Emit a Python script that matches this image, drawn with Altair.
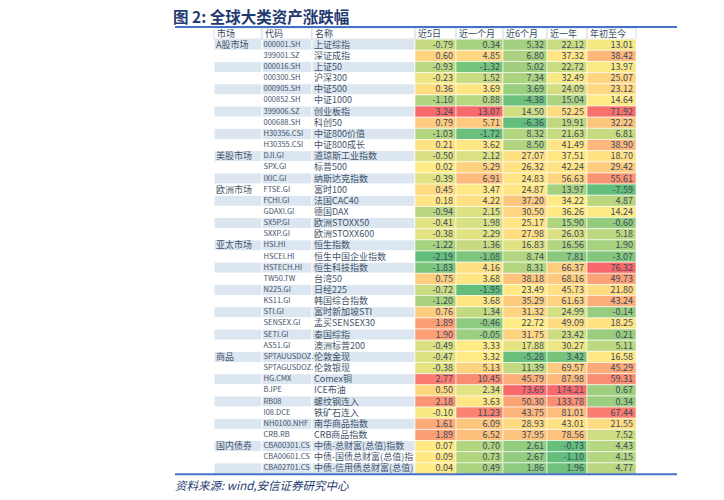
import altair as alt
import pandas as pd
import numpy as np

# ---------------- data ----------------
markets = ["A股市场", "", "", "", "", "", "", "", "", "",
           "美股市场", "", "",
           "欧洲市场", "", "", "", "",
           "亚太市场", "", "", "", "", "", "", "", "", "",
           "商品", "", "", "", "", "", "", "",
           "国内债券", "", ""]
codes = ["000001.SH", "399001.SZ", "000016.SH", "000300.SH", "000905.SH", "000852.SH",
         "399006.SZ", "000688.SH", "H30356.CSI", "H30355.CSI",
         "DJI.GI", "SPX.GI", "IXIC.GI",
         "FTSE.GI", "FCHI.GI", "GDAXI.GI", "SX5P.GI", "SXXP.GI",
         "HSI.HI", "HSCEI.HI", "HSTECH.HI", "TW50.TW", "N225.GI", "KS11.GI", "STI.GI",
         "SENSEX.GI", "SETI.GI", "AS51.GI",
         "SPTAUUSDOZ.", "SPTAGUSDOZ.", "HG.CMX", "B.IPE", "RB08", "I08.DCE", "NH0100.NHF", "CRB.RB",
         "CBA00301.CS", "CBA00601.CS", "CBA02701.CS"]
names = ["上证综指", "深证成指", "上证50", "沪深300", "中证500", "中证1000", "创业板指", "科创50",
         "中证800价值", "中证800成长",
         "道琼斯工业指数", "标普500", "纳斯达克指数",
         "富时100", "法国CAC40", "德国DAX", "欧洲STOXX50", "欧洲STOXX600",
         "恒生指数", "恒生中国企业指数", "恒生科技指数", "台湾50", "日经225", "韩国综合指数",
         "富时新加坡STI", "孟买SENSEX30", "泰国综指", "澳洲标普200",
         "伦敦金现", "伦敦银现", "Comex铜", "ICE布油", "螺纹钢连入", "铁矿石连入", "南华商品指数", "CRB商品指数",
         "中债-总财富(总值)指数", "中债-国债总财富(总值)指数", "中债-信用债总财富(总值)指数"]
ret_5d = [-0.79, 0.60, -0.93, -0.23, 0.36, -1.10, 3.24, 0.79, -1.03, 0.21,
          -0.50, 0.02, -0.39,
          0.45, 0.18, -0.94, -0.41, -0.38,
          -1.22, -2.19, -1.83, 0.75, -0.72, -1.20, 0.76, 1.89, 1.90, -0.49,
          -0.47, -0.38, 2.77, 0.50, 2.18, -0.10, 1.61, 1.89,
          0.07, 0.09, 0.04]
ret_1m = [0.34, 4.85, -1.32, 1.52, 3.69, 0.88, 13.07, 5.71, -1.72, 3.62,
          2.12, 5.29, 6.91,
          3.47, 4.22, 2.15, 1.98, 2.29,
          1.36, -1.08, 4.16, 3.68, -1.95, 3.68, 1.34, -0.46, -0.05, 3.33,
          3.32, 5.13, 10.45, 2.34, 3.63, 11.23, 6.09, 6.52,
          0.70, 0.73, 0.49]
ret_6m = [5.32, 6.80, 5.02, 7.34, 3.69, -4.38, 14.50, -6.36, 8.32, 8.50,
          27.07, 26.32, 24.83,
          24.87, 37.20, 30.50, 25.17, 27.98,
          16.83, 8.74, 8.31, 38.18, 23.49, 35.29, 31.32, 22.72, 31.75, 17.88,
          -5.28, 11.39, 45.79, 73.65, 50.30, 43.75, 28.93, 37.95,
          2.61, 2.67, 1.86]
ret_1y = [22.12, 37.32, 22.72, 32.49, 24.09, 15.04, 52.25, 19.91, 21.63, 41.49,
          37.51, 42.24, 56.63,
          13.97, 34.22, 36.26, 15.90, 26.03,
          16.56, 7.81, 66.37, 68.16, 45.73, 61.63, 24.99, 49.09, 23.42, 30.27,
          3.42, 69.57, 87.98, 174.21, 133.78, 81.01, 43.01, 78.56,
          -0.73, -1.10, 1.96]
ret_ytd = [13.01, 38.42, 13.97, 25.07, 23.12, 14.64, 71.92, 32.22, 6.81, 38.90,
           18.70, 29.42, 55.61,
           -7.59, 4.87, 14.24, -0.60, 5.18,
           1.90, -3.07, 76.32, 49.73, 21.80, 43.24, -0.14, 18.25, 0.21, 5.11,
           16.58, 45.29, 59.31, 0.67, 0.34, 67.44, 21.55, 7.52,
           4.43, 4.15, 4.77]

left_headers = ["市场", "代码", "名称"]
num_headers = ["近5日", "近一个月", "近6个月", "近一年", "年初至今"]
num_series = [ret_5d, ret_1m, ret_6m, ret_1y, ret_ytd]

# ---------------- layout (chart pixel units) ----------------
W, H = 708, 484
col_edges = [206, 254, 304, 407, 448, 495, 539, 579, 628]
ROW_H = 11.15
TOP = 20.0
y_dom = [-TOP / ROW_H, (H - TOP) / ROW_H]
n = len(codes)

xs = alt.Scale(domain=[0, W], nice=False, zero=False)
ys = alt.Scale(domain=y_dom, reverse=True, nice=False, zero=False)
FONT = "Noto Sans CJK SC"
ZW = "\u200b"

# ---------------- tables ----------------
left_rows = []
for i in range(n):
    vals = [markets[i], codes[i], names[i]]
    for c in range(3):
        left_rows.append(dict(x0=col_edges[c], x1=col_edges[c + 1], y0=i + 1, y1=i + 2,
                              yc=i + 1.5, tx=col_edges[c] + (1.5 if c == 1 else 2), txt=vals[c],
                              bg="#DCE6F1" if i % 2 == 0 else "#FFFFFF", col=c))
left_df = pd.DataFrame(left_rows)

num_rows = []
for c, series in enumerate(num_series):
    arr = np.array(series)
    lo, med, hi = arr.min(), np.median(arr), arr.max()
    for i, v in enumerate(series):
        t = 0.5 * (v - lo) / (med - lo) if v <= med else 0.5 + 0.5 * (v - med) / (hi - med)
        num_rows.append(dict(x0=col_edges[c + 3], x1=col_edges[c + 4], y0=i + 1, y1=i + 2,
                             yc=i + 1.5, tx=col_edges[c + 4] - 3, t=t, txt=f"{v:.2f}"))
num_df = pd.DataFrame(num_rows)

hdr_rows = []
for c, h in enumerate(left_headers + num_headers):
    hdr_rows.append(dict(x0=col_edges[c], x1=col_edges[c + 1], y0=0, y1=1, yc=0.5,
                         tx=col_edges[c] + 3, txt=h))
hdr_df = pd.DataFrame(hdr_rows)

rule_df = pd.DataFrame([dict(x0=167, x1=669, y=-0.08), dict(x0=167, x1=669, y=n + 1.03)])
note_df = pd.DataFrame([dict(tx=165, y=-0.9, txt="图 2: 全球大类资产涨跌幅", kind="title"),
                        dict(tx=167, y=n + 2.17, txt="资料来源: wind,安信证券研究中心", kind="src")])

X = lambda f: alt.X(f"{f}:Q", scale=xs, axis=None)
Y = lambda f: alt.Y(f"{f}:Q", scale=ys, axis=None)

left_bg = alt.Chart(left_df).mark_rect(stroke="#FFFFFF", strokeWidth=1).encode(
    x=X("x0"), x2="x1", y=Y("y0"), y2="y1", fill=alt.Fill("bg:N", scale=None))


def left_text(col, size, limit):
    return alt.Chart(left_df[left_df.col == col]).mark_text(
        align="left", baseline="middle", font=FONT, fontSize=size, color="#44546A",
        limit=limit, ellipsis=ZW).encode(x=X("tx"), y=Y("yc"), text="txt:N")


mkt_txt = left_text(0, 9, 46)
code_txt = left_text(1, 7.5, 50)
name_txt = left_text(2, 9, 101)

num_bg = alt.Chart(num_df).mark_rect(stroke="#FFFFFF", strokeWidth=0.6).encode(
    x=X("x0"), x2="x1", y=Y("y0"), y2="y1",
    fill=alt.Fill("t:Q", scale=alt.Scale(domain=[0, 0.5, 1],
                                         range=["#63BE7B", "#FFEB84", "#F8696B"],
                                         interpolate="rgb"), legend=None))
num_txt = alt.Chart(num_df).mark_text(align="right", baseline="middle", font=FONT,
                                      fontSize=9, color="#3E4A5E").encode(
    x=X("tx"), y=Y("yc"), text="txt:N")

hdr_bg = alt.Chart(hdr_df).mark_rect(fill="#FFFFFF", stroke="#D6DCE5", strokeWidth=1).encode(
    x=X("x0"), x2="x1", y=Y("y0"), y2="y1")
hdr_txt = alt.Chart(hdr_df).mark_text(align="left", baseline="middle", font=FONT,
                                      fontSize=9, color="#34495E").encode(
    x=X("tx"), y=Y("yc"), text="txt:N")

rules = alt.Chart(rule_df).mark_rule(color="#4472C4", strokeWidth=2).encode(
    x=X("x0"), x2="x1", y=Y("y"))

title_txt = alt.Chart(note_df[note_df.kind == "title"]).mark_text(
    align="left", baseline="middle", font=FONT, fontSize=15.5, fontWeight="bold",
    color="#1F3A70").encode(x=X("tx"), y=Y("y"), text="txt:N")
src_txt = alt.Chart(note_df[note_df.kind == "src"]).mark_text(
    align="left", baseline="middle", font=FONT, fontSize=11.5, fontStyle="italic",
    color="#1F3A70").encode(x=X("tx"), y=Y("y"), text="txt:N")

chart = alt.layer(left_bg, mkt_txt, code_txt, name_txt, hdr_bg, num_bg, num_txt, hdr_txt,
                  rules, title_txt, src_txt).properties(
    width=W, height=H, padding=0, autosize=alt.AutoSizeParams(type="none"),
    background="#FFFFFF").configure_view(stroke=None)

chart.save("out.html", embed_options={"renderer": "svg", "actions": False})
